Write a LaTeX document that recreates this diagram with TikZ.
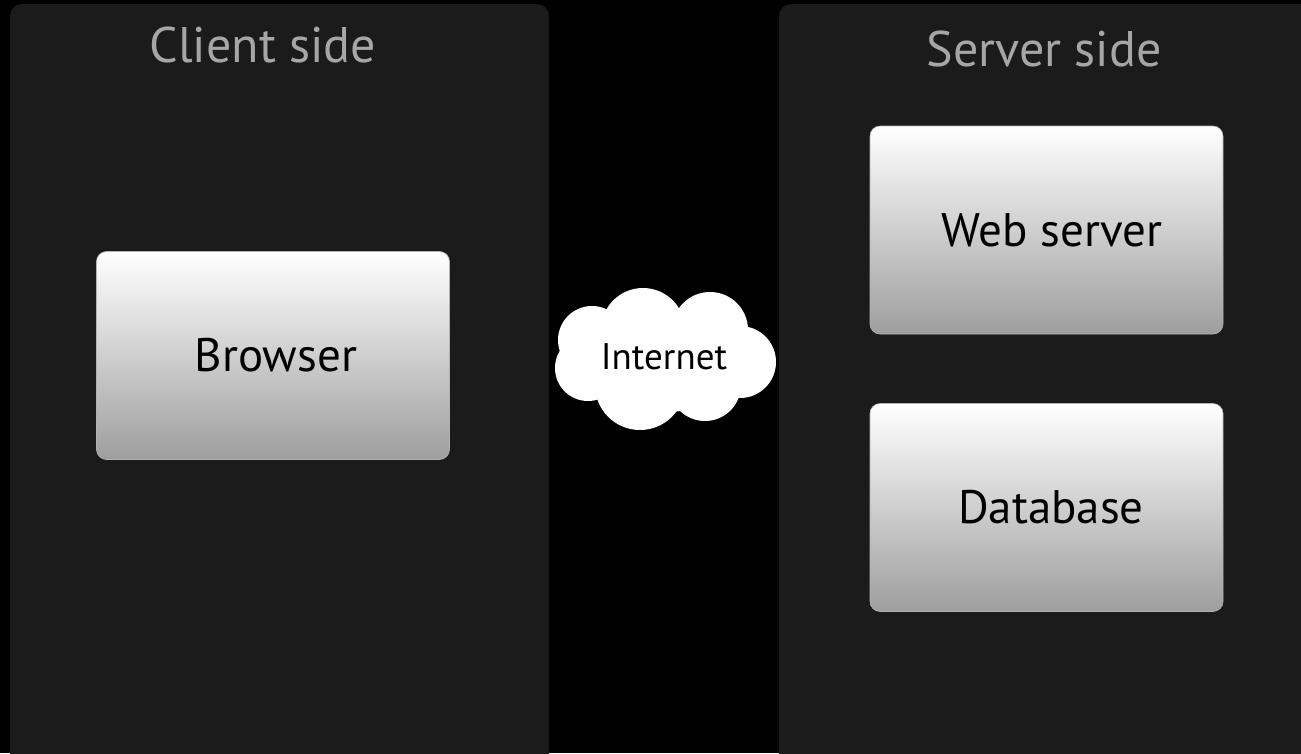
\documentclass[tikz,border=0pt]{standalone}
\usepackage{fontspec}
\setmainfont{PT Sans}
\begin{document}
\begin{tikzpicture}[x=1pt,y=-1pt]
\definecolor{panelgray}{HTML}{1B1B1B}
\definecolor{titlegray}{HTML}{A6A6A6}
\definecolor{boxbottom}{HTML}{9E9E9E}
\tikzset{
  panel/.style={fill=panelgray, rounded corners=12pt},
  boxnode/.style={rounded corners=10pt, top color=white, bottom color=boxbottom,
    draw=gray!60, line width=0.6pt, minimum width=353pt, minimum height=208pt,
    inner sep=0pt, font=\fontsize{47}{52}\selectfont, text=black},
  title/.style={font=\fontsize{50}{56}\selectfont, text=titlegray, inner sep=0pt},
  cloudpart/.style={fill=white}
}
\fill[black] (0,0) rectangle (1301,753);
\useasboundingbox (0,0) rectangle (1301,753);
\begin{scope}
\clip (0,0) rectangle (1301,753);
\fill[panel] (10,4) rectangle (549,768);
\fill[panel] (779,4) rectangle (1320,768);
\end{scope}
\node[title] (client) at (263,45) {Client side};
\node[title] (server) at (1044,49) {Server side};
\node[boxnode] (browser) at (273,355.5) {\hspace*{6pt}Browser};
\node[boxnode] (web) at (1046.5,230) {\hspace*{11pt}Web server};
\node[boxnode] (db) at (1046.5,507.5) {\hspace*{9pt}Database};
% cloud
\fill[cloudpart] (592,340) circle (34);
\fill[cloudpart] (588,368) circle (33);
\fill[cloudpart] (643,330) circle (42);
\fill[cloudpart] (710,330) circle (38);
\fill[cloudpart] (740,362) circle (36);
\fill[cloudpart] (640,385) circle (45);
\fill[cloudpart] (705,385) circle (36);
\fill[cloudpart] (665,360) ellipse (80 and 52);
\node[font=\fontsize{37}{42}\selectfont, text=black, inner sep=0pt] (internet) at (664,357) {Internet};
\end{tikzpicture}
\end{document}
